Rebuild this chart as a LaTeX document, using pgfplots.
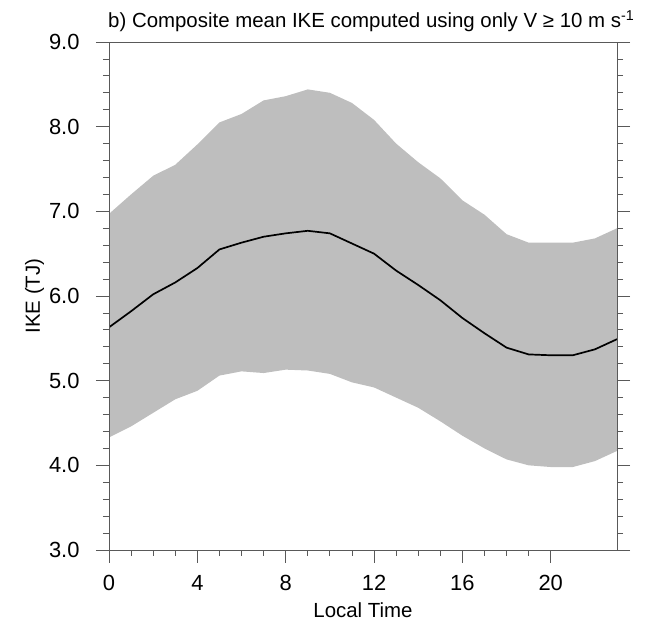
\documentclass[border=0pt]{standalone}
\usepackage{pgfplots}
\pgfplotsset{compat=1.18}
\usepgfplotslibrary{fillbetween}
\usetikzlibrary{calc}
\usepackage{fontspec}
\setmainfont{Liberation Sans}

\begin{document}
\begin{tikzpicture}
\begin{axis}[
    scale only axis,
    width=508bp, height=508bp,
    xmin=0, xmax=23,
    ymin=3, ymax=9,
    xtick={0,4,8,12,16,20},
    ytick={3,4,5,6,7,8,9},
    minor x tick num=3,
    minor y tick num=4,
    xtick pos=lower,
    ytick pos=both,
    tick align=outside,
    major tick length=13bp,
    minor tick length=6bp,
    axis line style={black!65, line width=0.8bp},
    every tick/.style={black!65, line width=0.8bp},
    yticklabel style={xshift=-13bp, /pgf/number format/fixed, /pgf/number format/fixed zerofill, /pgf/number format/precision=1},
    /pgf/number format/assume math mode=true,
    tick label style={font=\fontsize{22}{24}\selectfont},
    xticklabel style={yshift=-9bp},
    xlabel={Local Time},
    ylabel={IKE (TJ)},
    xlabel style={yshift=-5bp},
    ylabel style={yshift=-2bp},
    label style={font=\fontsize{20.5}{23}\selectfont},
    axis on top,
]
\coordinate (o) at (rel axis cs:0,0);
\coordinate (t) at (rel axis cs:0,1);

\addplot[name path=up, draw=none] coordinates {
(0,6.97)(1,7.20)(2,7.42)(3,7.55)(4,7.79)(5,8.05)(6,8.15)(7,8.31)(8,8.36)(9,8.44)(10,8.40)(11,8.28)(12,8.08)(13,7.80)(14,7.58)(15,7.39)(16,7.13)(17,6.96)(18,6.73)(19,6.63)(20,6.63)(21,6.63)(22,6.68)(23,6.80)
};
\addplot[name path=lo, draw=none] coordinates {
(0,4.33)(1,4.46)(2,4.62)(3,4.78)(4,4.88)(5,5.06)(6,5.11)(7,5.09)(8,5.13)(9,5.12)(10,5.08)(11,4.98)(12,4.92)(13,4.80)(14,4.68)(15,4.52)(16,4.35)(17,4.20)(18,4.07)(19,4.00)(20,3.98)(21,3.98)(22,4.05)(23,4.17)
};
\addplot[fill={rgb,255:red,190;green,190;blue,190}, draw=none] fill between[of=up and lo];

\addplot[black, line width=1.7bp] coordinates {
(0,5.63)(1,5.82)(2,6.02)(3,6.16)(4,6.33)(5,6.55)(6,6.63)(7,6.70)(8,6.74)(9,6.77)(10,6.74)(11,6.62)(12,6.50)(13,6.30)(14,6.13)(15,5.95)(16,5.74)(17,5.56)(18,5.39)(19,5.31)(20,5.30)(21,5.30)(22,5.37)(23,5.49)
};
\end{axis}
\node[anchor=base west, font=\fontsize{20.5}{23}\selectfont, inner sep=0pt] at ($(t)+(-1bp,14bp)$)
  {b) Composite mean IKE computed using only V ≥ 10 m s\textsuperscript{-1}};
\pgfresetboundingbox
\path ($(o)+(-109bp,-81bp)$) rectangle ($(o)+(537bp,550bp)$);
\end{tikzpicture}
\end{document}
